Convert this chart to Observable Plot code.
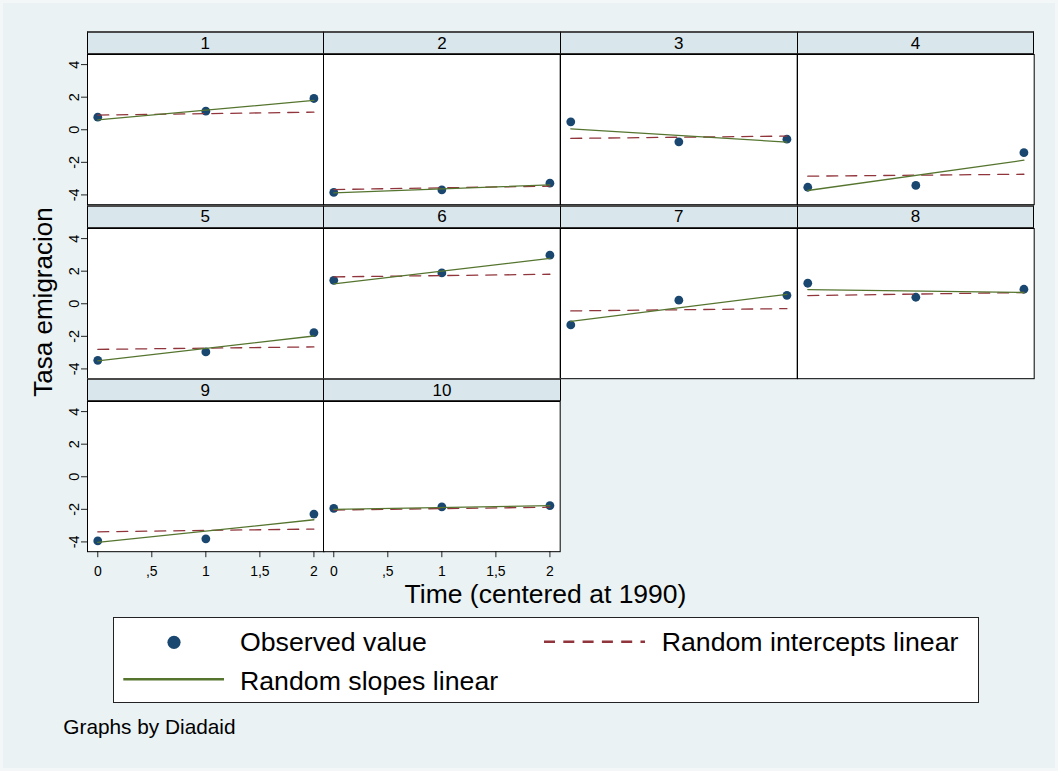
<!DOCTYPE html>
<html>
<head>
<meta charset="utf-8">
<script src="https://cdn.jsdelivr.net/npm/d3@7"></script>
<script src="https://cdn.jsdelivr.net/npm/@observablehq/plot@0.6"></script>
<style>
html, body { margin: 0; padding: 0; background: #f3f7f8; }
#page { position: relative; width: 1058px; height: 771px; overflow: hidden;
  font-family: "Liberation Sans", Arial, Helvetica, sans-serif; color: #000; }
#bg { position: absolute; left: 3px; top: 3px; width: 1052px; height: 765px; background: #eaf2f3; }
.abs { position: absolute; white-space: nowrap; line-height: 1; }
.strip { position: absolute; box-sizing: border-box; background: #d9e6eb;
  border-top: 2px solid #4a4a4a; border-bottom: 1.5px solid #333;
  border-left: 1px solid #000; border-right: 1px solid #000;
  display: flex; align-items: center; justify-content: center; font-size: 17px; line-height: 1; }
.panel { position: absolute; }
#legend { position: absolute; box-sizing: border-box; background: #fff; border: 1px solid #222; }
</style>
</head>
<body>
<div id="page"><div id="bg"></div></div>
<script>
// ---- data ----
const panels = ["1", "2", "3", "4", "5", "6", "7", "8", "9", "10"];
const times = [0, 1, 2];
const observed = [
  [0.77, 1.14, 1.92],
  [-3.85, -3.69, -3.28],
  [0.49, -0.74, -0.58],
  [-3.53, -3.42, -1.41],
  [-3.47, -2.96, -1.77],
  [1.44, 1.89, 2.98],
  [-1.30, 0.22, 0.52],
  [1.26, 0.40, 0.89],
  [-3.94, -3.81, -2.29],
  [-1.94, -1.85, -1.77]
];
const interceptsStart = [0.90, -3.67, -0.53, -2.85, -2.80, 1.65, -0.44, 0.50, -3.38, -2.04];
const interceptsEnd   = [1.08, -3.46, -0.39, -2.73, -2.65, 1.81, -0.30, 0.69, -3.21, -1.87];
const slopesStart     = [0.61, -3.87, 0.06, -3.73, -3.51, 1.22, -1.08, 0.87, -4.03, -2.00];
const slopesEnd       = [1.80, -3.38, -0.76, -1.87, -1.98, 2.78, 0.58, 0.69, -2.64, -1.77];
const yTicks = [-4, -2, 0, 2, 4];
const yTickLabels = ["-4", "-2", "0", "2", "4"];
const xTicks = [0, 0.5, 1, 1.5, 2];
const xTickLabels = ["0", ",5", "1", "1,5", "2"];
const legendLabels = ["Observed value", "Random intercepts linear", "Random slopes linear"];

const navy = "#1a476f", maroon = "#90353b", green = "#55752f";
const font = '"Liberation Sans", Arial, Helvetica, sans-serif';

// ---- layout ----
const page = document.getElementById("page");
const W = 236.7, plotH = 150.2, stripH = 23.3;
const colLeft = c => 86.5 + c * W;
const rowTop = r => 31 + r * 173.5;

panels.forEach((name, i) => {
  const c = i % 4, r = Math.floor(i / 4);
  const hasY = c === 0;
  const hasX = i >= 8;
  const ml = hasY ? 50 : 0;
  const mb = hasX ? 40 : 0;
  const obs = times.map((t, k) => ({t, v: observed[i][k]}));
  const ri = [{t: 0, v: interceptsStart[i]}, {t: 2, v: interceptsEnd[i]}];
  const rs = [{t: 0, v: slopesStart[i]}, {t: 2, v: slopesEnd[i]}];
  const chart = Plot.plot({
    width: ml + W,
    height: plotH + mb,
    marginLeft: ml, marginRight: 0, marginTop: 0, marginBottom: mb,
    style: {overflow: "visible", background: "transparent", fontFamily: font, fontSize: "14.5px", color: "#000"},
    x: {domain: [-0.095, 2.095], axis: hasX ? undefined : null},
    y: {domain: [-4.6, 4.62], axis: hasY ? undefined : null},
    marks: [
      Plot.frame({fill: "white", stroke: "none"}),
      hasY ? Plot.axisY(yTicks, {tickSize: 6, tickPadding: 2.5, tickRotate: -90, fontSize: 14.5, label: null, stroke: "#222",
        tickFormat: d => yTickLabels[yTicks.indexOf(d)]}) : null,
      hasX ? Plot.axisX(xTicks, {tickSize: 6, tickPadding: 8.5, fontSize: 14, label: null, stroke: "#222",
        tickFormat: d => xTickLabels[xTicks.indexOf(d)]}) : null,
      Plot.dot(obs, {x: "t", y: "v", r: 4.4, fill: navy}),
      Plot.line(ri, {x: "t", y: "v", stroke: maroon, strokeWidth: 1.3, strokeDasharray: "11,8"}),
      Plot.line(rs, {x: "t", y: "v", stroke: green, strokeWidth: 1.3}),
      Plot.frame({stroke: "#000", strokeWidth: 1})
    ]
  });
  chart.classList.add("panel");
  chart.style.left = (colLeft(c) - ml) + "px";
  chart.style.top = (rowTop(r) + stripH) + "px";
  page.appendChild(chart);

  const strip = document.createElement("div");
  strip.className = "strip";
  strip.style.left = colLeft(c) + "px";
  strip.style.top = rowTop(r) + "px";
  strip.style.width = (W + 1) + "px";
  strip.style.height = stripH + "px";
  strip.textContent = name;
  page.appendChild(strip);
});

function addText(txt, left, top, size, extra) {
  const d = document.createElement("div");
  d.className = "abs";
  d.textContent = txt;
  d.style.left = left + "px";
  d.style.top = top + "px";
  d.style.fontSize = size + "px";
  if (extra) Object.assign(d.style, extra);
  page.appendChild(d);
  return d;
}

// Axis titles
addText("Tasa emigracion", 43.3, 302, 26, {transform: "translate(-50%,-50%) rotate(-90deg)"});
addText("Time (centered at 1990)", 545.5, 580.6, 26.5, {transform: "translateX(-50%)"});

// Legend
const legend = document.createElement("div");
legend.id = "legend";
legend.style.left = "112.7px";
legend.style.top = "616.7px";
legend.style.width = "866.6px";
legend.style.height = "86.6px";
page.appendChild(legend);

function swatch(left, top, w, h, inner) {
  const ns = "http://www.w3.org/2000/svg";
  const s = document.createElementNS(ns, "svg");
  s.setAttribute("width", w);
  s.setAttribute("height", h);
  s.style.position = "absolute";
  s.style.left = left + "px";
  s.style.top = top + "px";
  s.innerHTML = inner;
  page.appendChild(s);
}
swatch(164, 632, 20, 20, `<circle cx="10" cy="10.3" r="6.6" fill="${navy}"/>`);
swatch(544, 636, 102, 12, `<line x1="0" y1="5.7" x2="101" y2="5.7" stroke="${maroon}" stroke-width="2.6" stroke-dasharray="11,8.3"/>`);
swatch(123, 673, 102, 12, `<line x1="0.3" y1="6.3" x2="101" y2="6.3" stroke="${green}" stroke-width="2.6"/>`);
addText(legendLabels[0], 240, 629.2, 26.7);
addText(legendLabels[1], 661.7, 629.2, 26.7);
addText(legendLabels[2], 240, 667.5, 26.7);

// Note
addText("Graphs by Diadaid", 63.3, 716.6, 20.8);
</script>
</body>
</html>
